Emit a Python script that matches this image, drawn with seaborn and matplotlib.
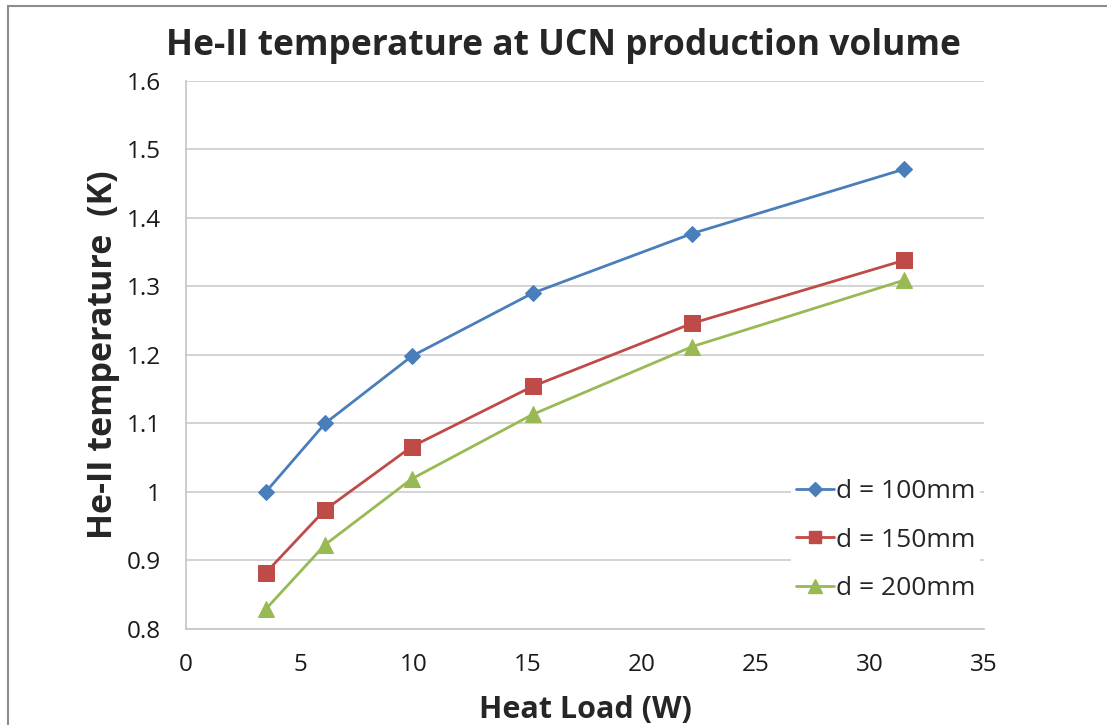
import numpy as np
import pandas as pd
import matplotlib
matplotlib.use("Agg")
import matplotlib.pyplot as plt
from matplotlib.lines import Line2D
import seaborn as sns

# Heat load (W) and He-II temperature (K) for three channel diameters
heat_load = [3.5, 6.1, 9.9, 15.2, 22.2, 31.5]
temp_d100 = [1.000, 1.100, 1.198, 1.290, 1.377, 1.471]
temp_d150 = [0.882, 0.974, 1.066, 1.154, 1.246, 1.338]
temp_d200 = [0.829, 0.923, 1.019, 1.113, 1.212, 1.309]
series_names = ["d = 100mm", "d = 150mm", "d = 200mm"]

x_ticks = [0, 5, 10, 15, 20, 25, 30, 35]
y_ticks = [0.8, 0.9, 1.0, 1.1, 1.2, 1.3, 1.4, 1.5, 1.6]
y_tick_labels = ["0.8", "0.9", "1", "1.1", "1.2", "1.3", "1.4", "1.5", "1.6"]

df = pd.DataFrame({
    "Heat Load (W)": heat_load * 3,
    "Temperature": temp_d100 + temp_d150 + temp_d200,
    "series": np.repeat(series_names, len(heat_load)),
})

sns.set_theme(style="white")
plt.rcParams["font.family"] = ["Open Sans", "DejaVu Sans"]

colors = ["#4A7EBB", "#BE4B48", "#98B954"]
markers = {"d = 100mm": "D", "d = 150mm": "s", "d = 200mm": "^"}
sizes = {"d = 100mm": 8, "d = 150mm": 11, "d = 200mm": 12}

fig = plt.figure(figsize=(11.07, 7.25), dpi=100)
ax = fig.add_axes([186 / 1107, 1 - 629 / 725, (984 - 186) / 1107, (629 - 80.7) / 725])

for name, col in zip(series_names, colors):
    sub = df[df["series"] == name]
    sns.lineplot(data=sub, x="Heat Load (W)", y="Temperature", ax=ax,
                 color=col, linewidth=2.0, marker=markers[name],
                 markersize=sizes[name], markeredgecolor=col,
                 label=name, zorder=3)

ax.set_xlim(0, 35)
ax.set_ylim(0.8, 1.6)
ax.set_xticks(x_ticks)
ax.set_yticks(y_ticks)
ax.set_yticklabels(y_tick_labels)
ax.tick_params(axis="both", labelsize=17.5, colors="#1A1A1A", length=0)
ax.tick_params(axis="y", pad=18)
ax.tick_params(axis="x", pad=17)
ax.grid(axis="y", color="#D0D0D0", linewidth=1.3)
ax.set_axisbelow(True)
for side in ["top", "right"]:
    ax.spines[side].set_visible(False)
for side in ["left", "bottom"]:
    ax.spines[side].set_color("#C8C8C8")
    ax.spines[side].set_linewidth(1.3)

ax.set_xlabel("Heat Load (W)", fontsize=22, fontweight="bold", labelpad=13)
ax.set_ylabel("He-II temperature  (K)", fontsize=24.5, fontweight="bold", labelpad=5)
fig.text(0.509, 1 - 46 / 725, "He-II temperature at UCN production volume",
         ha="center", va="center", fontsize=25.5, fontweight="bold")

# Legend: handles with short lines and centred markers
handles = [Line2D([0], [0], color=c, lw=2.0, marker=markers[n],
                  markersize=sizes[n] * 0.85, markeredgecolor=c)
           for n, c in zip(series_names, colors)]
leg = ax.legend(handles, series_names, loc="center left",
                bbox_to_anchor=(0.758, 0.162), frameon=True, fontsize=19,
                handlelength=1.45, handletextpad=0.05, labelspacing=0.88,
                borderpad=0.2, borderaxespad=0.0)
leg.get_frame().set_facecolor("white")
leg.get_frame().set_edgecolor("none")
leg.get_frame().set_alpha(1)

# Chart-area border along the top and left edges
fig.add_artist(Line2D([8 / 1107, 8 / 1107], [0, 1 - 6 / 725],
                      transform=fig.transFigure, color="#8C8C8C", lw=1.5))
fig.add_artist(Line2D([8 / 1107, 1], [1 - 6 / 725, 1 - 6 / 725],
                      transform=fig.transFigure, color="#8C8C8C", lw=1.5))

fig.savefig("out.png", dpi=100)
